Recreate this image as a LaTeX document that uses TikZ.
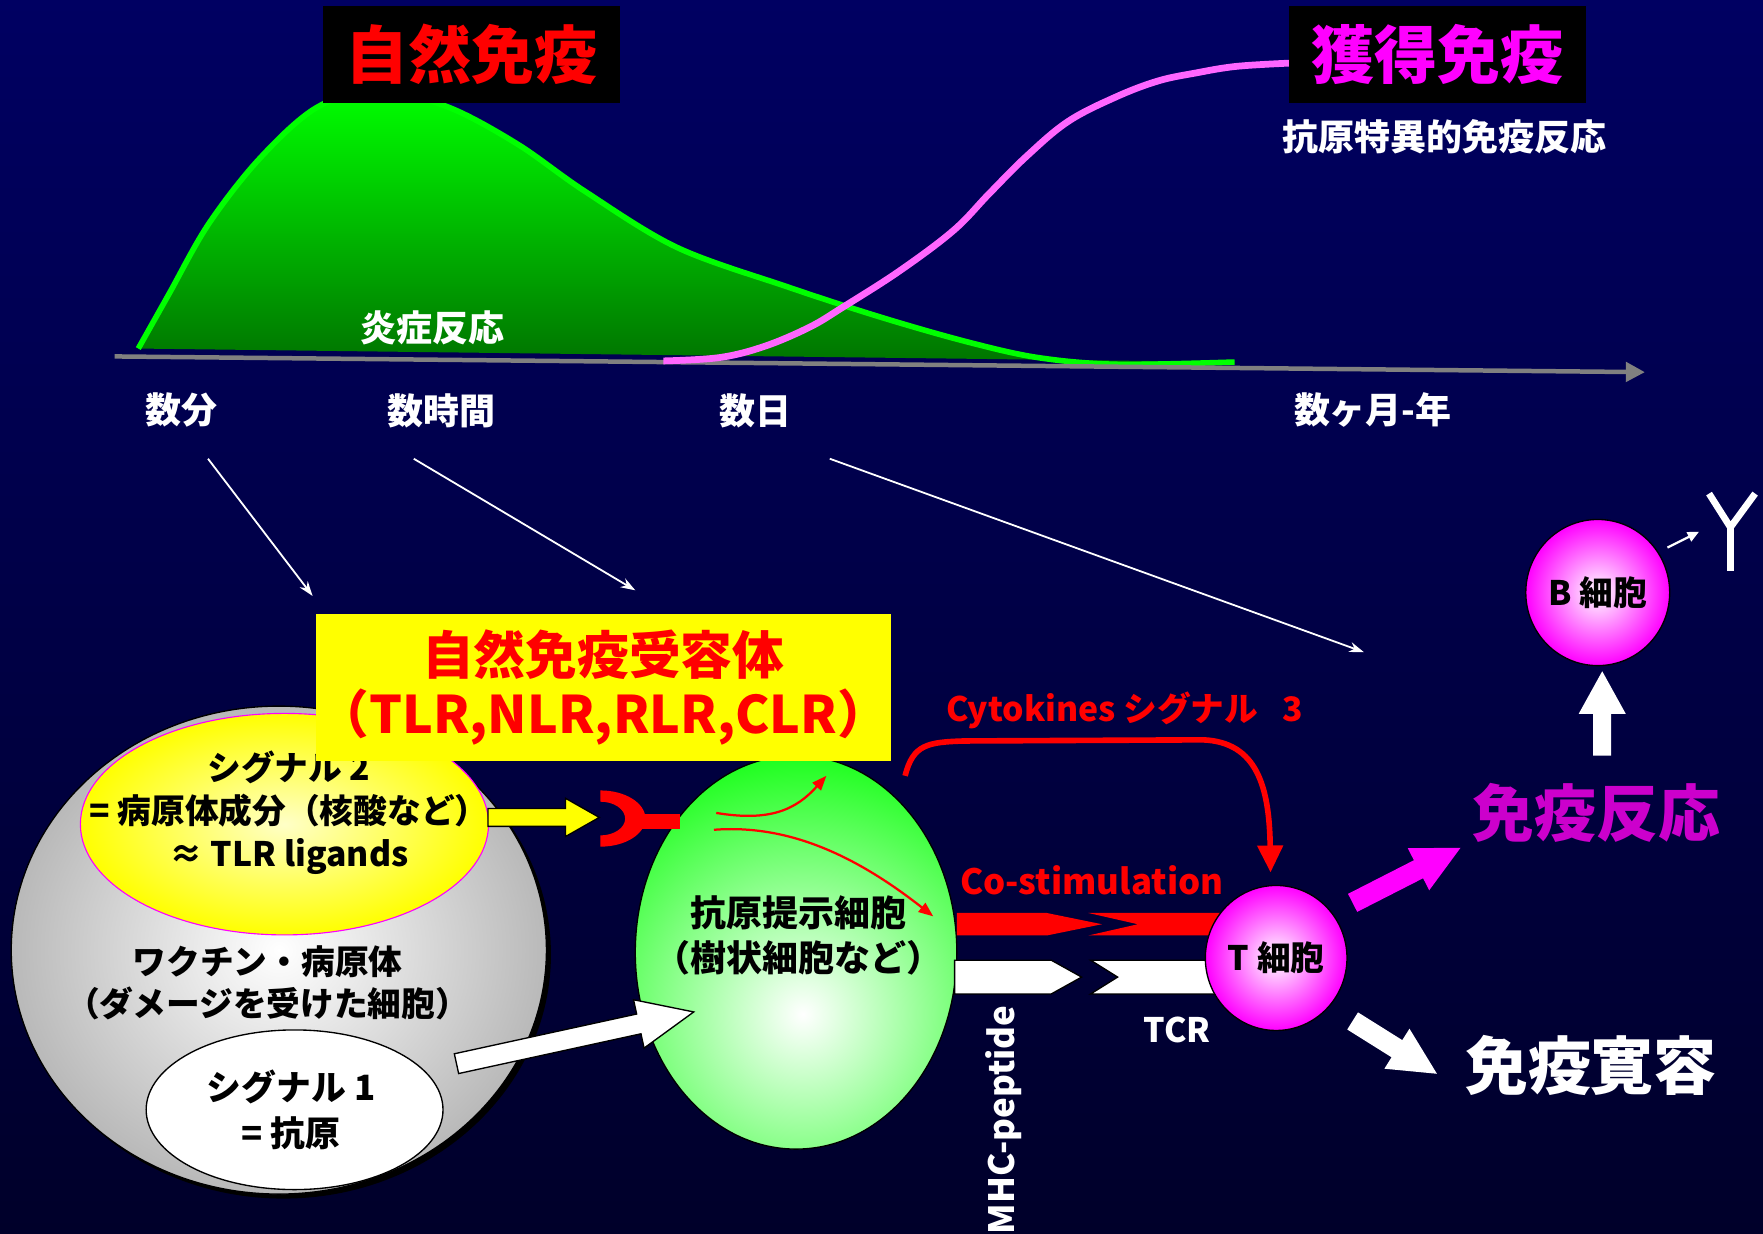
\documentclass[tikz,border=0pt]{standalone}
\usepackage{fontspec}
\setmainfont{Noto Sans CJK JP}
\usetikzlibrary{calc,shapes.geometric,arrows.meta}

\definecolor{navytop}{RGB}{0,0,98}
\definecolor{navymid}{RGB}{0,0,82}
\definecolor{navybot}{RGB}{0,0,42}
\definecolor{axisgray}{RGB}{128,128,128}
\definecolor{curvepink}{RGB}{255,102,255}
\definecolor{respmag}{RGB}{204,0,204}
\definecolor{apcgreen}{RGB}{20,255,20}
\definecolor{mag}{RGB}{255,0,255}
\definecolor{yel}{RGB}{255,255,0}
\definecolor{brightred}{RGB}{255,0,0}

\newcommand{\setfs}[2]{\fontsize{#1}{#2}\selectfont}

% block arrow: style, tail, tip, half shaft width, half head width, head length
\newcommand{\blockarrow}[6]{%
  \coordinate (ba-h) at ($(#3)!#6!(#2)$);
  \path[#1] ($(#2)!#4!90:(#3)$) -- ($(ba-h)!#4!90:(#3)$) -- ($(ba-h)!#5!90:(#3)$) -- (#3)
    -- ($(ba-h)!#5!-90:(#3)$) -- ($(ba-h)!#4!-90:(#3)$) -- ($(#2)!#4!-90:(#3)$) -- cycle;}

\tikzset{
  lbl/.style={inner sep=0pt, text=white, font=\bfseries\setfs{32}{38}},
  blk/.style={inner sep=0pt, text=black, align=center},
  cellshape/.style={ellipse, draw=black, line width=1.2pt, inner sep=0pt},
  thinarrow/.style={draw=white, line width=1.6pt, -{Stealth[length=13pt,width=9pt]}},
  redthin/.style={draw=brightred, line width=2pt, -{Triangle[length=13pt,width=10pt]}},
  whiteblock/.style={fill=white, draw=black, line width=1.2pt, line join=miter},
}

\begin{document}
\begin{tikzpicture}[x=1pt,y=-1pt]
\useasboundingbox (0,0) rectangle (1568,1097);
\shade[top color=navytop, middle color=navymid, bottom color=navybot] (0,0) rectangle (1568,1097);

% ---------- time course of innate and acquired immunity ----------
\shade[top color=green, bottom color=green!45!black]
  plot[smooth, tension=0.55] coordinates {(123,310) (150,262) (185,200) (230,142) (281,96) (335,80) (398,95) (460,128) (520,170) (602,220) (700,255) (783,282) (860,304) (923,318) (993,324) (1098,322)} -- cycle;
\draw[green, line width=5pt]
  plot[smooth, tension=0.55] coordinates {(123,310) (150,262) (185,200) (230,142) (281,96) (335,80) (398,95) (460,128) (520,170) (602,220) (700,255) (783,282) (860,304) (923,318) (993,324) (1098,322)};

\coordinate (ax-s) at (102,317);
\coordinate (ax-e) at (1463,331);
\draw[axisgray, line width=4pt, -{Triangle[length=17pt,width=17pt]}] (ax-s) -- (ax-e);

\draw[curvepink, line width=6pt]
  plot[smooth, tension=0.6] coordinates {(590,321) (640,318) (680,308) (720,291) (750,273) (800,241) (848,205) (880,172) (913,139) (950,108) (993,86) (1030,72) (1063,65) (1100,59) (1150,56)};

\node[fill=black, minimum width=264pt, minimum height=87pt, inner sep=0pt,
      text=brightred, font=\bfseries\setfs{56}{60}] (innate) at (419,48.5) {自然免疫};
\node[fill=black, minimum width=265pt, minimum height=87pt, inner sep=0pt,
      text=mag, font=\bfseries\setfs{56}{60}] (acquired) at (1278.5,48.5) {獲得免疫};
\node[lbl] (specific) at (1285,122) {抗原特異的免疫反応};
\node[lbl] (inflam) at (385,292) {炎症反応};

\node[lbl] (t-min) at (161,365) {数分};
\node[lbl] (t-hour) at (393,365) {数時間};
\node[lbl] (t-day) at (672,365) {数日};
\node[lbl] (t-month) at (1221,365) {数ヶ月-年};

\coordinate (pm1) at (185,408);  \coordinate (pm2) at (278,530);
\coordinate (ph1) at (368,408);  \coordinate (ph2) at (565,525);
\coordinate (pd1) at (738,408);  \coordinate (pd2) at (1213,580);
\draw[thinarrow] (pm1) -- (pm2);
\draw[thinarrow] (ph1) -- (ph2);
\draw[thinarrow] (pd1) -- (pd2);

% ---------- vaccine / pathogen ----------
\fill[black] (252,849) ellipse (238pt and 217pt);
\node[cellshape, minimum width=476pt, minimum height=434pt, shading=radial,
      inner color=white, outer color=gray!55] (vaccine) at (248,845) {};
\node[cellshape, draw=mag, line width=1pt, minimum width=363pt, minimum height=197pt,
      shading=radial, inner color=yel!22!white, outer color=yel] (sig2) at (253,733) {};
\node[cellshape, fill=white, minimum width=264pt, minimum height=142pt] (sig1) at (262,987) {};

\node[blk, font=\bfseries\setfs{30}{38}] (sig2-txt) at (257,723) {シグナル 2\\= 病原体成分（核酸など）\\≈ TLR ligands};
\node[blk, font=\bfseries\setfs{30}{38}] (vac-txt) at (238,874) {ワクチン・病原体\\（ダメージを受けた細胞）};
\node[blk, font=\bfseries\setfs{31}{41}] (sig1-txt) at (259,987) {シグナル 1\\= 抗原};

% ---------- antigen presenting cell ----------
\node[cellshape, minimum width=286pt, minimum height=350pt,
      path picture={\shade[inner color=white, outer color=apcgreen]
        ($(path picture bounding box.center)+(6,55)$) circle (240pt);}] (apc) at (708,847) {};
\node[blk, font=\bfseries\setfs{32}{40}] (apc-txt) at (710,832) {抗原提示細胞\\（樹状細胞など）};

\coordinate (s1-tail) at (406,946);
\coordinate (s1-tip) at (617,900);
\blockarrow{whiteblock}{s1-tail}{s1-tip}{9pt}{22pt}{50pt}

% receptor box
\node[fill=yel, minimum width=511pt, minimum height=131pt, inner sep=0pt, align=center,
      text=brightred, font=\bfseries\setfs{46}{53}] (prr) at (536.5,611.5) {自然免疫受容体\\（TLR,NLR,RLR,CLR）};

% ligand arrow and receptor
\coordinate (lig-tail) at (434,727);
\coordinate (lig-tip) at (533,727);
\blockarrow{fill=yel, draw=black, line width=1.2pt}{lig-tail}{lig-tip}{8pt}{17pt}{30pt}
\begin{scope}
  \clip (534,690) rectangle (590,770);
  \fill[brightred, even odd rule] (534,728) ellipse (40pt and 25pt) (534,728) ellipse (22pt and 15pt);
\end{scope}
\fill[brightred] (570,724) rectangle (605,737);

% signalling inside the cell
\coordinate (sg1-s) at (637,723);  \coordinate (sg1-e) at (735,690);
\coordinate (sg2-s) at (635,738);  \coordinate (sg2-e) at (830,815);
\draw[redthin] (sg1-s) .. controls (685,731) and (708,720) .. (sg1-e);
\draw[redthin] (sg2-s) .. controls (700,733) and (760,760) .. (sg2-e);

% ---------- T cell interactions ----------
\coordinate (ck-s) at (805,690);
\coordinate (ck-e) at (1130,776);
\draw[brightred, line width=5pt, -{Triangle[length=24pt,width=22pt]}]
  (ck-s) .. controls (812,662) and (825,660) .. (858,659) -- (1070,658)
  .. controls (1118,660) and (1129,700) .. (ck-e);
\node[inner sep=0pt, text=brightred, font=\bfseries\setfs{30}{34}] (ck-txt) at (1000,632) {Cytokines シグナル\hspace{0.7em}3};
\node[inner sep=0pt, text=brightred, font=\bfseries\setfs{31}{36}] (cs-txt) at (971,783) {Co-stimulation};

\fill[brightred] (851,812) -- (931,812) -- (980,822) -- (931,832) -- (851,832) -- cycle;
\fill[brightred] (968,812) -- (1090,812) -- (1090,832) -- (968,832) -- (1012,822) -- cycle;
\path[whiteblock] (849,854) -- (935,854) -- (962,869) -- (935,884) -- (849,884) -- cycle;
\path[whiteblock] (970,854) -- (1090,854) -- (1090,884) -- (970,884) -- (994,869) -- cycle;

\node[lbl, rotate=90, anchor=east, font=\bfseries\setfs{31}{34}] (mhc) at (893,894) {MHC-peptide};
\node[lbl, font=\bfseries\setfs{30}{34}] (tcr) at (1047,916) {TCR};

\node[cellshape, minimum width=126pt, minimum height=129pt, shading=radial,
      inner color=white, outer color=mag] (tcell) at (1135,852) {};
\node[blk, font=\bfseries\setfs{30}{34}] at (tcell) {T 細胞};
\node[cellshape, minimum width=128pt, minimum height=130pt, shading=radial,
      inner color=white, outer color=mag] (bcell) at (1421,527) {};
\node[blk, font=\bfseries\setfs{30}{34}] at (bcell) {B 細胞};

% outcomes
\node[inner sep=0pt, text=respmag, font=\bfseries\setfs{55}{60}] (resp) at (1420,723) {免疫反応};
\node[lbl, font=\bfseries\setfs{56}{60}] (toler) at (1415,948) {免疫寛容};

\coordinate (rs-tail) at (1203,803);  \coordinate (rs-tip) at (1299,754);
\blockarrow{fill=mag}{rs-tail}{rs-tip}{9pt}{21pt}{42pt}
\coordinate (tl-tail) at (1203,908);  \coordinate (tl-tip) at (1278,955);
\blockarrow{fill=white}{tl-tail}{tl-tip}{9pt}{21pt}{42pt}
\coordinate (up-tail) at (1425,672);  \coordinate (up-tip) at (1425,597);
\blockarrow{fill=white}{up-tail}{up-tip}{8pt}{21pt}{38pt}

% antibody
\coordinate (ab-l) at (1520,439);
\coordinate (ab-r) at (1561,439);
\coordinate (ab-j) at (1539,469);
\coordinate (ab-b) at (1539,508);
\draw[white, line width=6pt] (ab-l) -- (ab-j) -- (ab-r);
\draw[white, line width=6pt] (ab-j) -- (ab-b);
\coordinate (ab-a1) at (1483,487);
\coordinate (ab-a2) at (1511,473);
\draw[draw=white, line width=2pt, -{Triangle[length=10pt,width=9pt]}] (ab-a1) -- (ab-a2);

\end{tikzpicture}
\end{document}
